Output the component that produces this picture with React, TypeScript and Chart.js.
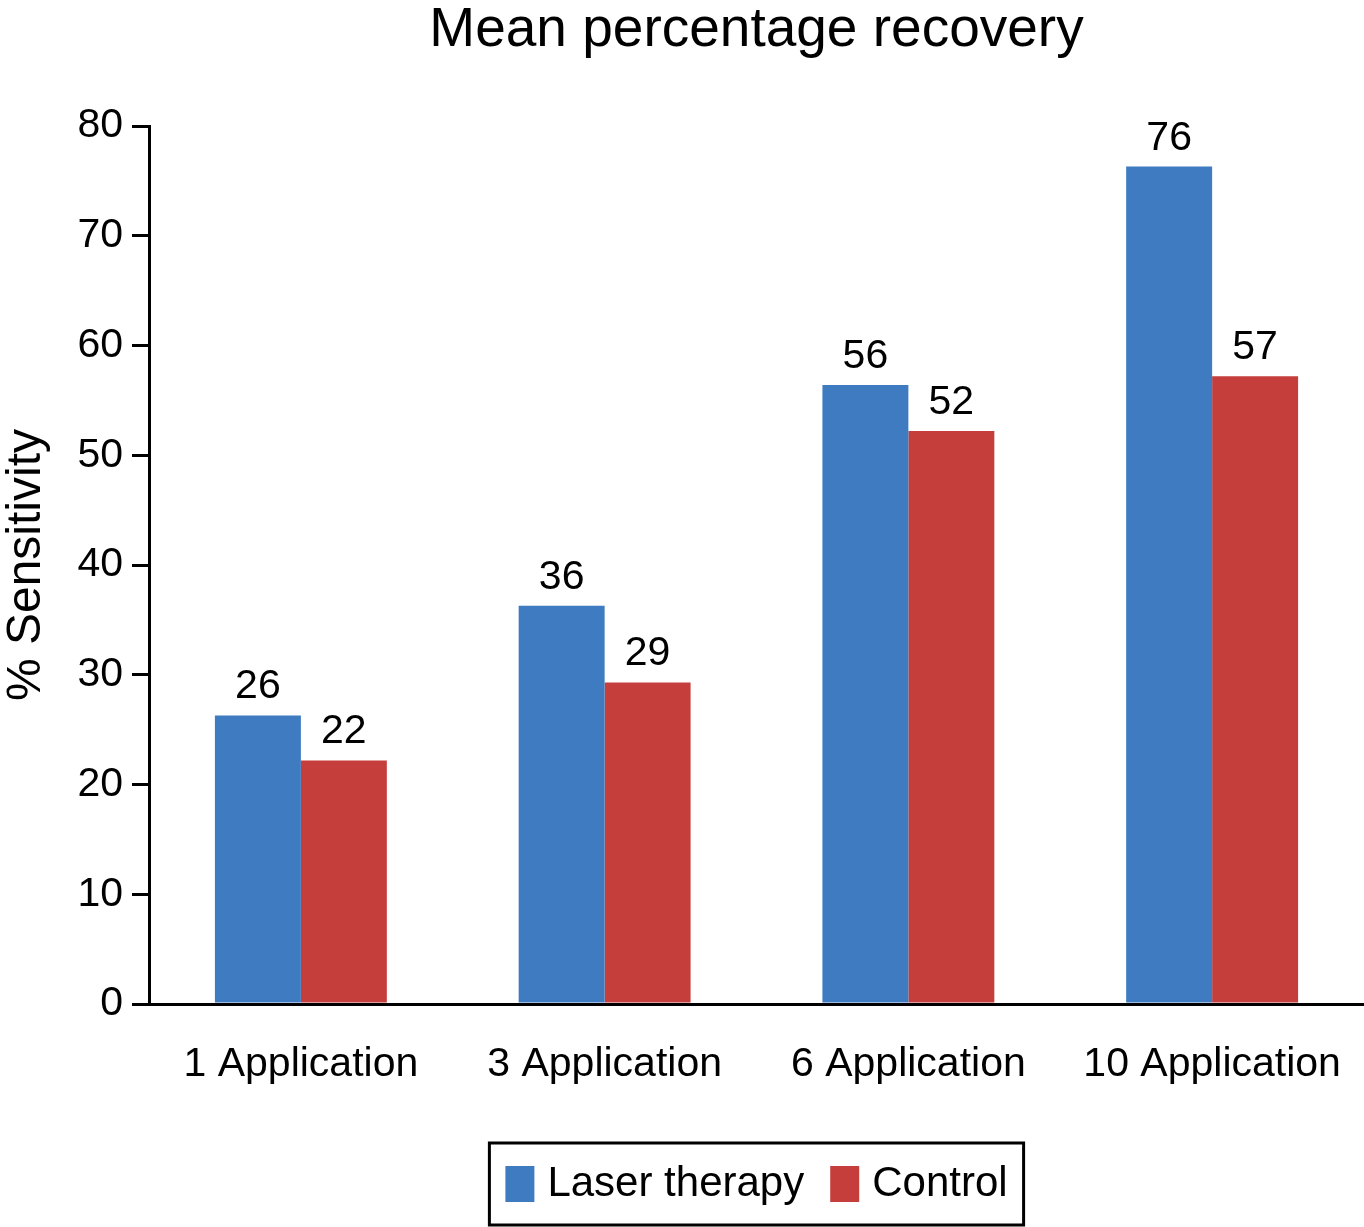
import React, { useEffect, useRef } from "react";
import { Chart, registerables } from "chart.js";

Chart.register(...registerables);

const FONT = '"Liberation Sans", Arial, Helvetica, sans-serif';

const categories = ["1 Application", "3 Application", "6 Application", "10 Application"];
const laserValues = [26.3, 36.3, 56.4, 76.3];
const controlValues = [22.2, 29.3, 52.2, 57.2];
const seriesNames = ["Laser therapy", "Control"];
const seriesColors = ["#3E7BC1", "#C63E3C"];
const yMin = 0;
const yMax = 80;
const yStep = 10;
const chartTitle = "Mean percentage recovery";
const yTitle = "% Sensitivity";

const dataLabelPlugin = {
  id: "dataLabels",
  afterDatasetsDraw(chart: any) {
    const ctx = chart.ctx;
    ctx.save();
    ctx.font = `41px ${FONT}`;
    ctx.fillStyle = "#000";
    ctx.textAlign = "center";
    ctx.textBaseline = "alphabetic";
    chart.data.datasets.forEach((ds: any, di: number) => {
      const meta = chart.getDatasetMeta(di);
      meta.data.forEach((bar: any, i: number) => {
        const v = ds.data[i];
        ctx.fillText(String(Math.round(v)), bar.x, bar.y - 17);
      });
    });
    ctx.restore();
  },
};

const legendBoxPlugin = {
  id: "legendBox",
  afterDraw(chart: any) {
    const ctx = chart.ctx;
    const area = chart.chartArea;
    ctx.save();
    ctx.font = `42px ${FONT}`;
    const sqW = 29;
    const sqH = 36;
    const gap = 13;
    const itemGap = 26;
    const padX = 16;
    const boxH = 82;
    const items = chart.data.datasets.map((d: any) => ({
      label: d.label,
      color: d.backgroundColor,
      w: ctx.measureText(d.label).width,
    }));
    let total = 0;
    items.forEach((it: any, i: number) => {
      total += sqW + gap + it.w + (i > 0 ? itemGap : 0);
    });
    const boxW = total + padX * 2;
    const cx = (area.left + area.right) / 2;
    const boxLeft = cx - boxW / 2;
    const boxTop = chart.height - 2 - boxH;
    ctx.lineWidth = 3;
    ctx.strokeStyle = "#000";
    ctx.strokeRect(boxLeft, boxTop, boxW, boxH);
    const cy = boxTop + boxH / 2;
    let x = boxLeft + padX;
    ctx.textBaseline = "middle";
    ctx.textAlign = "left";
    items.forEach((it: any, i: number) => {
      if (i > 0) x += itemGap;
      ctx.fillStyle = it.color;
      ctx.fillRect(x, cy - sqH / 2, sqW, sqH);
      x += sqW + gap;
      ctx.fillStyle = "#000";
      ctx.fillText(it.label, x, cy);
      x += it.w;
    });
    ctx.restore();
  },
};

export default function App() {
  const canvasRef = useRef<HTMLCanvasElement | null>(null);

  useEffect(() => {
    if (!canvasRef.current) return;
    Chart.defaults.font.family = FONT;
    Chart.defaults.color = "#000";
    const chart = new Chart(canvasRef.current, {
      type: "bar",
      data: {
        labels: categories,
        datasets: [
          {
            label: seriesNames[0],
            data: laserValues,
            backgroundColor: seriesColors[0],
            borderWidth: 0,
            barPercentage: 1,
            categoryPercentage: 0.566,
          },
          {
            label: seriesNames[1],
            data: controlValues,
            backgroundColor: seriesColors[1],
            borderWidth: 0,
            barPercentage: 1,
            categoryPercentage: 0.566,
          },
        ],
      },
      options: {
        responsive: false,
        animation: false,
        devicePixelRatio: 1,
        layout: { padding: { top: 0, right: 0, bottom: 102, left: 0 } },
        plugins: {
          legend: { display: false },
          tooltip: { enabled: false },
          title: {
            display: true,
            text: chartTitle,
            color: "#000",
            fullSize: false,
            font: { size: 55, weight: "normal", lineHeight: 1, family: FONT },
            padding: { top: 3, bottom: 68 },
          },
        },
        scales: {
          x: {
            grid: { display: false, drawTicks: false },
            border: { display: true, color: "#000", width: 3 },
            ticks: {
              color: "#000",
              font: { size: 41, family: FONT, lineHeight: 2.95 },
              padding: 0,
              maxRotation: 0,
              autoSkip: false,
            },
          },
          y: {
            min: yMin,
            max: yMax,
            afterFit: (s: any) => {
              s.width = 149;
            },
            ticks: {
              stepSize: yStep,
              color: "#000",
              font: { size: 41, family: FONT },
              padding: 9,
            },
            grid: {
              display: true,
              drawOnChartArea: false,
              drawTicks: true,
              tickLength: 17,
              color: "#000",
              lineWidth: 3,
            },
            border: { display: true, color: "#000", width: 3 },
            title: {
              display: true,
              text: yTitle,
              color: "#000",
              font: { size: 48, lineHeight: 1, family: FONT },
              padding: { top: 3, bottom: 0 },
            },
          },
        },
      },
      plugins: [dataLabelPlugin, legendBoxPlugin],
    } as any);
    return () => chart.destroy();
  }, []);

  return (
    <div
      style={{
        position: "absolute",
        left: 0,
        top: 0,
        width: 1364,
        height: 1227,
        background: "#fff",
      }}
    >
      <canvas ref={canvasRef} width={1364} height={1227} />
    </div>
  );
}
